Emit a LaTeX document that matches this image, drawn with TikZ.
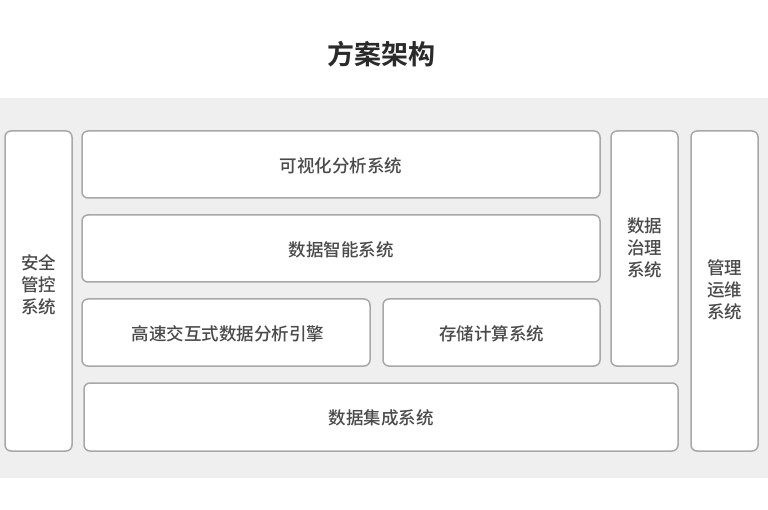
\documentclass[tikz,border=0pt]{standalone}
\usepackage{fontspec}
\newfontfamily\cjk{Noto Sans CJK SC Medium}
\newfontfamily\cjkb{Noto Sans CJK SC Bold}
\definecolor{bandgray}{HTML}{EFEFEF}
\definecolor{boxline}{HTML}{A8A8A8}
\definecolor{txt}{HTML}{4A4A4A}
\definecolor{titletxt}{HTML}{2A2A2A}
\begin{document}
\begin{tikzpicture}[x=1pt,y=-1pt,
  sysbox/.style={draw=boxline, line width=1.5pt, fill=white, rounded corners=6pt},
  systext/.style={font=\cjk\fontsize{17.5}{22}\selectfont, text=txt, align=center}]
\useasboundingbox (0,0) rectangle (768,510);
\fill[white] (0,0) rectangle (768,510);
\fill[bandgray] (0,98) rectangle (768,478);
\node[font=\cjkb\fontsize{27}{30}\selectfont, text=titletxt] (title) at (381,54) {方案架构};
% boxes
\draw[sysbox] (5,131) rectangle (72,451);
\node[systext] (aq) at (38.5,285) {安全\\管控\\系统};
\draw[sysbox] (82,131) rectangle (600,198);
\node[systext] (ksh) at (341,166) {可视化分析系统};
\draw[sysbox] (82,215) rectangle (600,282);
\node[systext] (zn) at (341,250) {数据智能系统};
\draw[sysbox] (82,299) rectangle (370,366);
\node[systext] (gs) at (228,334) {高速交互式数据分析引擎};
\draw[sysbox] (383,299) rectangle (600,366);
\node[systext] (cc) at (491.5,334) {存储计算系统};
\draw[sysbox] (611,131) rectangle (678,366);
\node[systext] (zl) at (644.5,248) {数据\\治理\\系统};
\draw[sysbox] (84,383) rectangle (678,451);
\node[systext] (jc) at (381,418) {数据集成系统};
\draw[sysbox] (691,131) rectangle (758,451);
\node[systext] (yw) at (724.5,290) {管理\\运维\\系统};
\end{tikzpicture}
\end{document}
